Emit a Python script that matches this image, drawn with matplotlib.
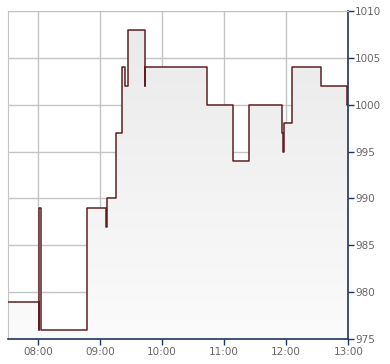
import matplotlib
matplotlib.use("Agg")
import matplotlib.pyplot as plt
import matplotlib.dates as mdates
import numpy as np
import pandas as pd
from matplotlib.patches import Polygon

# step data (value holds until next time)
times = ["07:31:00", "08:01:00", "08:01:20", "08:03:00", "08:47:00", "09:06:00", "09:07:00",
         "09:15:00", "09:21:00", "09:24:00", "09:27:00", "09:43:00", "09:43:30", "10:43:00",
         "11:09:00", "11:24:00", "11:56:00", "11:57:00", "11:58:00", "12:06:00", "12:34:00",
         "12:59:00", "13:00:00"]
values = [979, 976, 989, 976, 989, 987, 990,
          997, 1004, 1002, 1008, 1002, 1004, 1000,
          994, 1000, 997, 995, 998, 1004, 1002,
          1000, 1000]
yticks = [975, 980, 985, 990, 995, 1000, 1005, 1010]
xticks = ["08:00:00", "09:00:00", "10:00:00", "11:00:00", "12:00:00", "13:00:00"]

day = "2024-01-01 "
t = mdates.date2num(pd.to_datetime([day + s for s in times], format="%Y-%m-%d %H:%M:%S"))
xt = mdates.date2num(pd.to_datetime([day + s for s in xticks], format="%Y-%m-%d %H:%M:%S"))

fig = plt.figure(figsize=(3.9, 3.64), dpi=100)
ax = fig.add_axes([8 / 390, 25 / 364, 340.3 / 390, 328 / 364])

ymin, ymax = 975, 1010
ax.set_xlim(t[0], t[-1])
ax.set_ylim(ymin, ymax)

# build step polygon for gradient fill
xs, ys = [t[0]], [values[0]]
for i in range(1, len(t)):
    xs += [t[i], t[i]]
    ys += [values[i - 1], values[i]]
poly_pts = list(zip(xs, ys)) + [(t[-1], ymin), (t[0], ymin)]
poly = Polygon(poly_pts, closed=True, facecolor="none", edgecolor="none")
ax.add_patch(poly)
grad = np.linspace(0, 1, 256).reshape(-1, 1)
cmap = matplotlib.colors.LinearSegmentedColormap.from_list("g", ["#fbfbfb", "#e9e9e9"])
im = ax.imshow(grad, aspect="auto", cmap=cmap, origin="lower",
               extent=[t[0], t[-1], ymin, ymax], zorder=1)
im.set_clip_path(poly)

ax.step(t, values, where="post", color="#5e1f22", lw=1.1, zorder=3)

ax.set_xticks(xt)
ax.xaxis.set_major_formatter(mdates.DateFormatter("%H:%M"))
ax.set_yticks(yticks)
ax.yaxis.tick_right()
ax.grid(True, color="#c4c4c4", lw=1, zorder=0)
ax.set_axisbelow(True)

navy = "#1c3563"
for s in ["left", "top"]:
    ax.spines[s].set_color("#c4c4c4")
for s in ["right", "bottom"]:
    ax.spines[s].set_color(navy)
    ax.spines[s].set_linewidth(1.2)
ax.tick_params(axis="both", colors=navy, length=4, width=1,
               labelcolor="#666666", labelsize=7.5)
ax.tick_params(axis="y", pad=1)
ax.tick_params(axis="x", pad=2)

fig.savefig("out.png", dpi=100)
